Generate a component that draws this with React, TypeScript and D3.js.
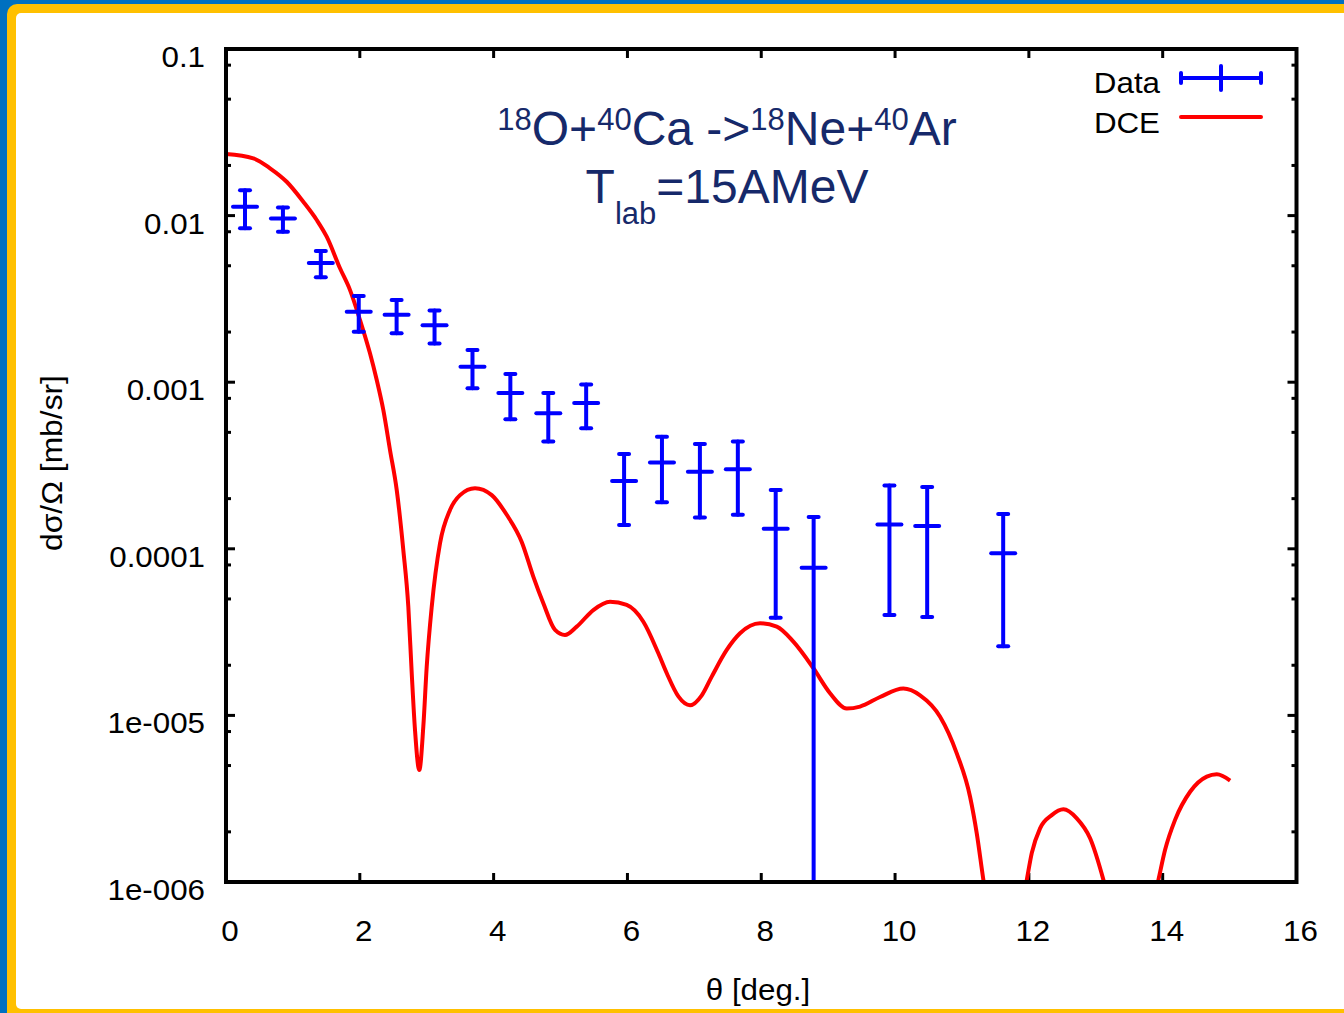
import React from "react";
import * as d3 from "d3";

// measured points (angle in deg, cross section in mb/sr, symmetric error)
const dataTheta = [0.284, 0.851, 1.417, 1.984, 2.55, 3.117, 3.684, 4.25, 4.817, 5.383, 5.95, 6.516, 7.083, 7.65, 8.216, 8.783, 9.916, 10.48, 11.616];
const dataValue = [0.0113, 0.0096, 0.0052, 0.00265, 0.00254, 0.0022, 0.00124, 0.00086, 0.00065, 0.00075, 0.000255, 0.00033, 0.00029, 0.0003, 0.000132, 0.000077, 0.00014, 0.000137, 0.000094];
const dataError = [0.0029, 0.0016, 0.00093, 0.00064, 0.00057, 0.00049, 0.00032, 0.00026, 0.00021, 0.00022, 0.000116, 0.00014, 0.000136, 0.00014, 0.0000935, 0.000078, 0.0001, 0.000098, 0.000068];

// DCE calculation
const curveTheta = [0, 0.408, 0.658, 0.907, 1.155, 1.356, 1.505, 1.704, 1.854, 2.003, 2.152, 2.253, 2.351, 2.451, 2.552, 2.65, 2.725, 2.776, 2.825, 2.889, 2.949, 3.0, 3.075, 3.199, 3.348, 3.498, 3.722, 3.972, 4.196, 4.42, 4.593, 4.743, 4.918, 5.067, 5.242, 5.49, 5.74, 5.989, 6.238, 6.462, 6.588, 6.761, 6.936, 7.111, 7.26, 7.484, 7.683, 7.982, 8.232, 8.48, 8.779, 9.028, 9.278, 9.477, 9.776, 10.124, 10.374, 10.673, 10.922, 11.121, 11.221, 11.32, 11.65, 11.969, 12.043, 12.167, 12.342, 12.516, 12.716, 12.915, 13.114, 13.5, 13.936, 14.036, 14.185, 14.41, 14.659, 14.809, 15.008];
const curveValue = [0.02344, 0.02208, 0.01923, 0.01596, 0.01211, 0.00941, 0.00747, 0.00483, 0.00357, 0.00236, 0.00149, 0.00103, 0.000681, 0.000392, 0.000225, 9.84e-5, 4.49e-5, 1.79e-5, 8.16e-6, 4.7e-6, 8.55e-6, 1.96e-5, 4.49e-5, 0.000108, 0.000171, 0.00021, 0.000231, 0.00021, 0.00016, 0.00011, 6.81e-5, 4.71e-5, 3.26e-5, 3.04e-5, 3.41e-5, 4.29e-5, 4.81e-5, 4.6e-5, 3.65e-5, 2.36e-5, 1.79e-5, 1.3e-5, 1.15e-5, 1.32e-5, 1.71e-5, 2.47e-5, 3.11e-5, 3.57e-5, 3.41e-5, 2.77e-5, 1.92e-5, 1.36e-5, 1.1e-5, 1.13e-5, 1.29e-5, 1.45e-5, 1.32e-5, 9.82e-6, 5.92e-6, 3.25e-6, 1.96e-6, 1.03e-6, 2e-7, 1.03e-6, 1.49e-6, 2.1e-6, 2.52e-6, 2.73e-6, 2.41e-6, 1.83e-6, 1.03e-6, 2e-7, 1.03e-6, 1.56e-6, 2.36e-6, 3.48e-6, 4.29e-6, 4.43e-6, 4.06e-6];

const xTicks = [0, 2, 4, 6, 8, 10, 12, 14, 16];
const yTicks = [0.1, 0.01, 0.001, 0.0001, 1e-5, 1e-6];
const yTickLabels = ["0.1", "0.01", "0.001", "0.0001", "1e-005", "1e-006"];
const minorSteps = [2, 5, 8];

const W = 1344;
const H = 1013;
const left = 226;
const right = 1296.5;
const top = 49;
const bottom = 882;
const font = "'Liberation Sans', Arial, sans-serif";
const navy = "#16296a";

const x = d3.scaleLinear().domain([0, 16]).range([left, right]);
const y = d3.scaleLog().domain([1e-6, 0.1]).range([bottom, top]);

const minorTicks: number[] = [];
[1e-6, 1e-5, 1e-4, 1e-3, 1e-2].forEach((d) => minorSteps.forEach((m) => minorTicks.push(d * m)));

// gnuplot text looks a bit wide, stretch it
const Label = ({ tx, ty, anchor = "start", size = 29, children }: any) => (
  <text
    transform={`translate(${tx},${ty}) scale(1.08,1)`}
    textAnchor={anchor}
    fontSize={size}
    fontFamily={font}
    fill="#000"
  >
    {children}
  </text>
);

export default function App() {
  const line = d3
    .line<number>()
    .x((d, i) => x(curveTheta[i]))
    .y((d) => y(d))
    .curve(d3.curveMonotoneX);

  const blue = "#0000ff";

  return (
    <svg width={W} height={H} style={{ position: "absolute", left: 0, top: 0 }}>
      <defs>
        <clipPath id="plot">
          <rect x={left} y={top} width={right - left} height={bottom - top} />
        </clipPath>
      </defs>
      {/* slide frame */}
      <rect x={0} y={0} width={W} height={H} fill="#0070c0" />
      <rect x={7} y={4} width={W + 40} height={H + 40} rx={10} fill="#ffc000" />
      <rect x={16} y={13} width={W + 40} height={1009 - 13} rx={5} fill="#fff" />

      {/* ticks */}
      <g stroke="#000" strokeWidth={3}>
        {xTicks.map((t) => (
          <g key={"x" + t}>
            <line x1={x(t)} x2={x(t)} y1={bottom} y2={bottom - 9} />
            <line x1={x(t)} x2={x(t)} y1={top} y2={top + 9} />
          </g>
        ))}
        {yTicks.map((t) => (
          <g key={"y" + t}>
            <line x1={left} x2={left + 9} y1={y(t)} y2={y(t)} />
            <line x1={right} x2={right - 9} y1={y(t)} y2={y(t)} />
          </g>
        ))}
        {minorTicks.map((t) => (
          <g key={"m" + t}>
            <line x1={left} x2={left + 5} y1={y(t)} y2={y(t)} />
            <line x1={right} x2={right - 5} y1={y(t)} y2={y(t)} />
          </g>
        ))}
      </g>

      {/* tick labels */}
      {yTicks.map((t, i) => (
        <Label key={"yl" + t} tx={205} ty={y(t) + 18} anchor="end">
          {yTickLabels[i]}
        </Label>
      ))}
      {xTicks.map((t) => (
        <Label key={"xl" + t} tx={x(t) + 4} ty={941} anchor="middle">
          {t}
        </Label>
      ))}

      {/* axis titles */}
      <text
        transform="translate(62,463) rotate(-90) scale(1.06,1)"
        textAnchor="middle"
        fontSize={30}
        fontFamily={font}
        fill="#000"
      >
        dσ/Ω [mb/sr]
      </text>
      <Label tx={758} ty={1000} anchor="middle">
        θ [deg.]
      </Label>

      {/* plotted series */}
      <g clipPath="url(#plot)">
        <path d={line(curveValue) || ""} fill="none" stroke="#ff0000" strokeWidth={4} strokeLinejoin="round" />
        <g stroke={blue} strokeWidth={4} strokeLinecap="round">
          {dataTheta.map((t, i) => {
            const cx = x(t);
            const lo = dataValue[i] - dataError[i];
            const yTop = y(dataValue[i] + dataError[i]);
            const yBot = lo > 0 ? y(lo) : bottom + 10;
            return (
              <g key={"d" + i}>
                <line x1={cx} x2={cx} y1={yTop} y2={yBot} />
                <line x1={cx - 5} x2={cx + 5} y1={yTop} y2={yTop} />
                {lo > 0 && <line x1={cx - 5} x2={cx + 5} y1={yBot} y2={yBot} />}
                <line x1={cx - 12} x2={cx + 12} y1={y(dataValue[i])} y2={y(dataValue[i])} />
              </g>
            );
          })}
        </g>
      </g>

      {/* frame */}
      <rect x={left} y={top} width={right - left} height={bottom - top} fill="none" stroke="#000" strokeWidth={4} />

      {/* legend */}
      <Label tx={1160} ty={93} anchor="end">
        Data
      </Label>
      <Label tx={1160} ty={133} anchor="end">
        DCE
      </Label>
      <g stroke={blue} strokeWidth={4} strokeLinecap="round">
        <line x1={1181} x2={1261} y1={78} y2={78} />
        <line x1={1181} x2={1181} y1={73} y2={83} />
        <line x1={1261} x2={1261} y1={73} y2={83} />
        <line x1={1221} x2={1221} y1={66} y2={90} />
      </g>
      <line x1={1181} x2={1261} y1={117} y2={117} stroke="#ff0000" strokeWidth={4} strokeLinecap="round" />

      {/* title */}
      <text x={727} y={145} textAnchor="middle" fontFamily={font} fill={navy} fontSize={48}>
        <tspan fontSize={31} dy={-15}>18</tspan>
        <tspan dy={15}>O+</tspan>
        <tspan fontSize={31} dy={-15}>40</tspan>
        <tspan dy={15}>Ca -&gt;</tspan>
        <tspan fontSize={31} dy={-15}>18</tspan>
        <tspan dy={15}>Ne+</tspan>
        <tspan fontSize={31} dy={-15}>40</tspan>
        <tspan dy={15}>Ar</tspan>
      </text>
      <text x={727} y={203} textAnchor="middle" fontFamily={font} fill={navy} fontSize={48}>
        T
        <tspan fontSize={31} dy={21}>lab</tspan>
        <tspan dy={-21}>=15AMeV</tspan>
      </text>
    </svg>
  );
}
